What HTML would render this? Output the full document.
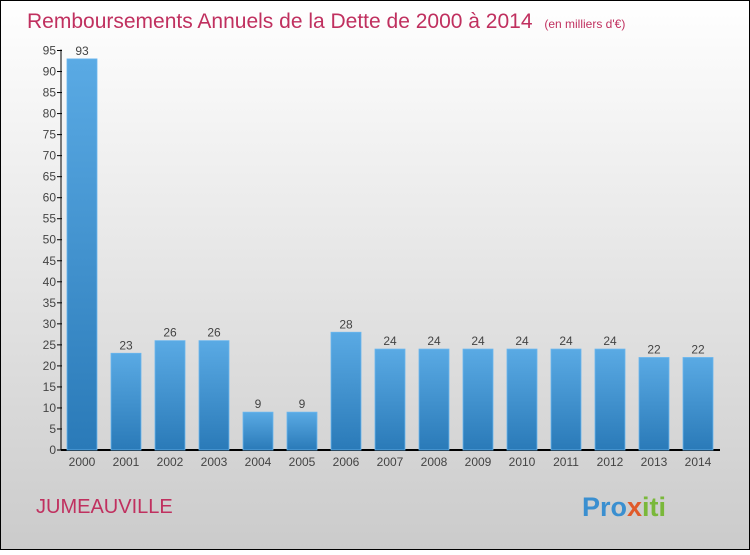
<!DOCTYPE html>
<html><head><meta charset="utf-8"><style>
body{margin:0;width:750px;height:550px;overflow:hidden;font-family:"Liberation Sans",sans-serif}
</style></head><body>
<svg width="750" height="550" xmlns="http://www.w3.org/2000/svg">
<defs>
<linearGradient id="bg" x1="0" y1="0" x2="0" y2="1"><stop offset="0" stop-color="#ffffff"/><stop offset="1" stop-color="#cbcbcb"/></linearGradient>
<linearGradient id="bar" x1="0" y1="0" x2="0" y2="1"><stop offset="0" stop-color="#5aaae4"/><stop offset="1" stop-color="#2a7ab8"/></linearGradient>
</defs>
<rect x="0.5" y="0.5" width="749" height="549" fill="url(#bg)" stroke="#000"/>
<text x="27" y="28" font-size="21" fill="#c0305f">Remboursements Annuels de la Dette de 2000 à 2014 <tspan font-size="12" dx="6">(en milliers d'€)</tspan></text>
<g id="axes"></g>
<g id="bars"></g>
<text x="36" y="513" font-size="20" fill="#c0305f">JUMEAUVILLE</text>
<text x="582" y="516" font-size="27" font-weight="bold" fill="#3a8fd0">Pro<tspan fill="#e05a2a">x</tspan><tspan fill="#7ab83a">iti</tspan></text>
</svg>
<script>
const years=["2000","2001","2002","2003","2004","2005","2006","2007","2008","2009","2010","2011","2012","2013","2014"];
const values=[93,23,26,26,9,9,28,24,24,24,24,24,24,22,22];
const yTicks=[0,5,10,15,20,25,30,35,40,45,50,55,60,65,70,75,80,85,90,95];
const NS="http://www.w3.org/2000/svg";
const y0=450,yTop=50.5,yMax=95;
const yS=v=>y0-(y0-yTop)*v/yMax;
const xS=i=>67+i*44;
const ax=document.getElementById('axes'),bg=document.getElementById('bars');
function mk(t,a,p){const e=document.createElementNS(NS,t);for(const k in a)e.setAttribute(k,a[k]);p.appendChild(e);return e;}
let l=mk('line',{x1:61,y1:yS(95)-1,x2:61,y2:y0,stroke:'#000','stroke-width':1},ax);


l=mk('line',{x1:61,y1:y0,x2:720,y2:y0,stroke:'#000','stroke-width':2},ax);


yTicks.forEach(v=>{
 const y=yS(v);
 const t=mk('line',{x1:57,y1:y,x2:62,y2:y,stroke:'#000'},ax);
 
 
 const tx=mk('text',{x:56,y:y+4,'font-size':12,fill:'#444','text-anchor':'end'},ax);
 tx.textContent=v;
 
 
});
values.forEach((v,i)=>{
 const x=xS(i),y=yS(v);
 const r=mk('rect',{x:x,y:y,width:30,height:y0-y,fill:'url(#bar)',stroke:'#6ab6ee','stroke-width':0.8},bg);
 
 
 const t=mk('text',{x:x+15,y:y-4,'font-size':12,fill:'#444','text-anchor':'middle'},bg);
 t.textContent=v;
 
 
 const xl=mk('text',{x:x+15,y:466,'font-size':12,fill:'#444','text-anchor':'middle'},bg);
 xl.textContent=years[i];
 
 
});
</script>
</body></html>
